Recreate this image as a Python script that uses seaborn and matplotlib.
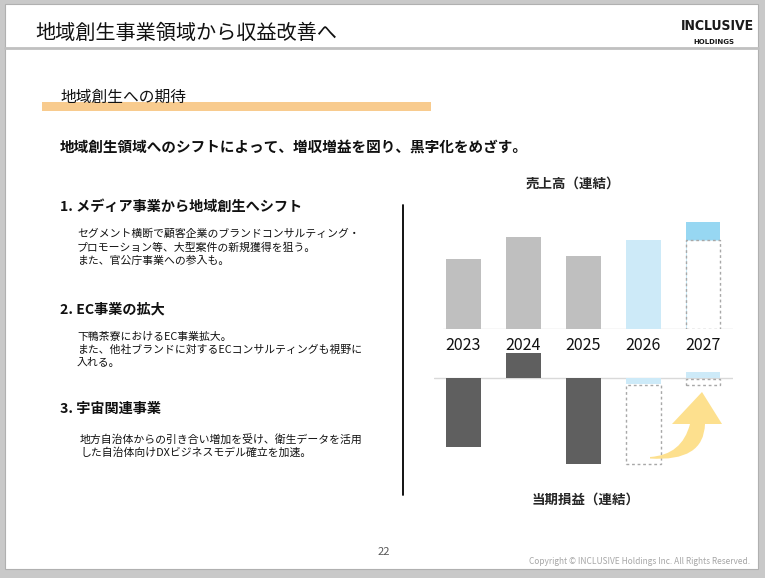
import numpy as np
import seaborn as sns
import matplotlib.pyplot as plt
from matplotlib.patches import Rectangle, PathPatch
from matplotlib.path import Path

sns.set_style('white')
plt.rcParams['font.family'] = ['Noto Sans CJK JP', 'DejaVu Sans']

# data
years = ['2023', '2024', '2025', '2026', '2027']
sales = [70, 92, 73, 89, 107]          # 売上高 (relative bar heights)
sales_2027_base = 89                   # dashed part of 2027 bar
profit = [-69, 25, -86, -6, 6]         # 当期損益
outline_years = ['2026', '2027']
outline_top = [-7, -1]
outline_bottom = [-86, -7]

gray = '#bfbfbf'
dark = '#5f5f5f'
light_blue = '#cdeaf8'
blue = '#97d7f2'
sales_colors = [gray, gray, gray, light_blue, blue]
profit_colors = [dark, dark, dark, light_blue, light_blue]

W, H = 765, 578
fig = plt.figure(figsize=(W / 100, H / 100), dpi=100)

# slide background
bg = fig.add_axes([0, 0, 1, 1], zorder=0)
bg.set_xlim(0, W)
bg.set_ylim(H, 0)
bg.axis('off')
bg.add_patch(Rectangle((0, 0), W, H, facecolor='#c9c9c9', edgecolor='none'))
bg.add_patch(Rectangle((5, 4), 753, 565, facecolor='white', edgecolor='#b0b0b0', lw=0.8))
bg.plot([5, 758], [48, 48], color='#c0c0c0', lw=2)
bg.text(35, 33, '地域創生事業領域から収益改善へ', fontsize=14.5, va='center', color='#111111')
bg.text(717, 26, 'INCLUSIVE', fontsize=10, fontweight='bold', va='center', ha='center',
        family=['DejaVu Sans'], fontstretch='condensed', color='#1a1a1a')
bg.text(714, 42, 'HOLDINGS', fontsize=5, fontweight='bold', va='center', ha='center',
        family=['DejaVu Sans'], color='#1a1a1a')

bg.add_patch(Rectangle((42, 102), 389, 9, facecolor='#f8cb8e', edgecolor='none'))
bg.text(60, 97, '地域創生への期待', fontsize=11.3, va='center', color='#111111', zorder=3)
bg.text(60, 147, '地域創生領域へのシフトによって、増収増益を図り、黒字化をめざす。',
        fontsize=10.5, fontweight='bold', va='center', color='#111111')

body = dict(fontsize=7.8, va='center', linespacing=1.35, color='#111111')
head = dict(fontsize=10.2, fontweight='bold', va='center', color='#111111')
bg.text(60, 207, '1. メディア事業から地域創生へシフト', **head)
bg.text(77, 247, 'セグメント横断で顧客企業のブランドコンサルティング・\n'
        'プロモーション等、大型案件の新規獲得を狙う。\nまた、官公庁事業への参入も。', **body)
bg.text(60, 309, '2. EC事業の拡大', **head)
bg.text(77, 350, '下鴨茶寮におけるEC事業拡大。\n'
        'また、他社ブランドに対するECコンサルティングも視野に\n入れる。', **body)
bg.text(60, 409, '3. 宇宙関連事業', **head)
bg.text(80, 446, '地方自治体からの引き合い増加を受け、衛生データを活用\n'
        'した自治体向けDXビジネスモデル確立を加速。', **body)

bg.plot([403, 403], [205, 495], color='black', lw=1.3)
bg.text(573, 184, '売上高（連結）', fontsize=9.7, fontweight='bold', ha='center', va='center')
bg.text(586, 500, '当期損益（連結）', fontsize=9.7, fontweight='bold', ha='center', va='center')

bg.text(384, 552, '22', fontsize=8, color='#595959', ha='center', va='center')
bg.text(750, 561, 'Copyright © INCLUSIVE Holdings Inc. All Rights Reserved.',
        fontsize=6, color='#a6a6a6', ha='right', va='center')

# chart area geometry (pixels)
left_px, right_px = 433.5, 733
bw = 0.58
dash_kw = dict(facecolor='white', edgecolor='#a8a8a8', lw=1, linestyle=(0, (2, 2)))

# 売上高
ax1 = fig.add_axes([left_px / W, (H - 329) / H, (right_px - left_px) / W, 114 / H], zorder=2)
ax1.patch.set_alpha(0)
sns.barplot(x=years, y=sales, hue=years, palette=sales_colors, width=bw, legend=False,
            saturation=1, linewidth=0, ax=ax1)
i27 = years.index('2027')
ax1.bar(i27, sales_2027_base, width=bw, **dash_kw)
ax1.set_xlim(-0.5, 4.5)
ax1.set_ylim(0, 114)
ax1.axhline(0, xmin=0.032, xmax=1, color='#d9d9d9', lw=1, zorder=0)
ax1.set_yticks([])
ax1.set_xlabel('')
ax1.set_ylabel('')
ax1.tick_params(axis='x', length=0, pad=6, labelsize=11.5, labelcolor='#111111')
sns.despine(ax=ax1, left=True, bottom=True)

# 当期損益
ax2 = fig.add_axes([left_px / W, (H - 468) / H, (right_px - left_px) / W, 118 / H], zorder=2)
ax2.patch.set_alpha(0)
sns.barplot(x=years, y=profit, hue=years, palette=profit_colors, width=bw, legend=False,
            saturation=1, linewidth=0, ax=ax2)
for y, top, bot in zip(outline_years, outline_top, outline_bottom):
    ax2.bar(years.index(y), top - bot, bottom=bot, width=bw, **dash_kw)
ax2.set_xlim(-0.5, 4.5)
ax2.set_ylim(-90, 28)
ax2.axhline(0, color='#d9d9d9', lw=1, zorder=0)
ax2.set_xticks([])
ax2.set_yticks([])
ax2.set_xlabel('')
ax2.set_ylabel('')
sns.despine(ax=ax2, left=True, bottom=True)

# curved arrow on top
top = fig.add_axes([0, 0, 1, 1], zorder=5)
top.patch.set_alpha(0)
top.set_xlim(0, W)
top.set_ylim(H, 0)
top.axis('off')
verts = [(650, 457), (682, 455), (690, 424), (672, 424), (702, 392), (722, 424),
         (705, 424), (704, 462), (650, 458.5), (650, 457)]
codes = [Path.MOVETO, Path.CURVE3, Path.CURVE3, Path.LINETO, Path.LINETO, Path.LINETO,
         Path.LINETO, Path.CURVE3, Path.CURVE3, Path.CLOSEPOLY]
top.add_patch(PathPatch(Path(verts, codes), facecolor='#fde08e', edgecolor='none'))

fig.savefig('out.png', dpi=100)
